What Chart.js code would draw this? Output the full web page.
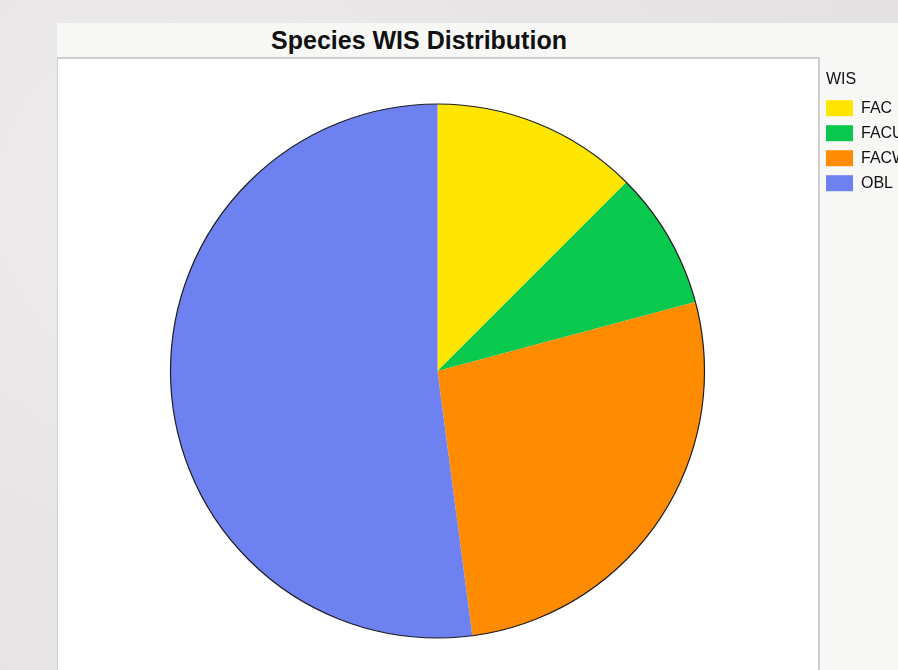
<!DOCTYPE html>
<html>
<head>
<meta charset="utf-8">
<script src="https://cdn.jsdelivr.net/npm/chart.js@4/dist/chart.umd.min.js"></script>
<style>
  html, body { margin: 0; padding: 0; }
  body {
    width: 898px; height: 670px; overflow: hidden; position: relative;
    background: radial-gradient(circle at 20% 30%, #efeded 0%, #e7e5e5 40%, #e2e0e0 100%);
    font-family: "Liberation Sans", Arial, sans-serif;
  }
  .panel {
    position: absolute; left: 57px; top: 23px; right: 0; bottom: 0;
    background: #f7f7f5;
  }
  .title {
    position: absolute; left: 419px; top: 23px; transform: translateX(-50%);
    height: 35px; line-height: 35px; white-space: nowrap;
    font-weight: bold; font-size: 25px; color: #111;
  }
  .plot {
    position: absolute; left: 57px; top: 57px; width: 760px; bottom: -2px;
    background: #fff;
    border-top: 2px solid #cfcfcf; border-left: 1px solid #cfcfcf; border-right: 2px solid #cfcfcf;
  }
  .wrap { position: absolute; left: 58px; top: 72px; width: 840px; height: 598px; }
</style>
</head>
<body>
<div class="panel"></div>
<div class="plot"></div>
<div class="title">Species WIS Distribution</div>
<div class="wrap"><canvas id="chart"></canvas></div>
<script>
const categories = ['FAC', 'FACU', 'FACW', 'OBL'];
const counts = [6, 4, 13, 25];
const colors = ['#fee600', '#09c84e', '#ff8c00', '#6e81f1'];

// stroke only the outer rim of the pie, using the arc geometry from Chart.js
const outerRim = {
  id: 'outerRim',
  afterDatasetsDraw(chart) {
    const arc = chart.getDatasetMeta(0).data[0];
    if (!arc) return;
    const ctx = chart.ctx;
    ctx.save();
    ctx.beginPath();
    ctx.arc(arc.x, arc.y, arc.outerRadius, 0, Math.PI * 2);
    ctx.lineWidth = 1.2;
    ctx.strokeStyle = '#1e1e1e';
    ctx.stroke();
    ctx.restore();
  }
};

// fixed legend width so the legend lines up with the side panel
const legendWidth = {
  id: 'legendWidth',
  beforeInit(chart) {
    const originalFit = chart.legend.fit;
    chart.legend.fit = function fit() {
      originalFit.bind(chart.legend)();
      this.width = 81;
    };
  }
};

document.addEventListener('DOMContentLoaded', () => {
  const ctx = document.getElementById('chart').getContext('2d');

  const data = {
    labels: categories,
    datasets: [{
      data: counts,
      backgroundColor: colors,
      borderWidth: 0,
      radius: 267
    }]
  };

  const config = {
    type: 'pie',
    data: data,
    options: {
      responsive: true,
      maintainAspectRatio: false,
      animation: false,
      layout: { padding: 0 },
      plugins: {
        legend: {
          position: 'right',
          align: 'start',
          title: {
            display: true,
            text: '  WIS',
            position: 'start',
            color: '#111',
            padding: 0,
            font: { family: 'Liberation Sans', size: 16 }
          },
          labels: {
            boxWidth: 27,
            boxHeight: 16,
            padding: 9,
            color: '#111',
            font: { family: 'Liberation Sans', size: 16 }
          }
        },
        tooltip: { enabled: false }
      }
    },
    plugins: [outerRim, legendWidth]
  };

  new Chart(ctx, config);
});
</script>
</body>
</html>
